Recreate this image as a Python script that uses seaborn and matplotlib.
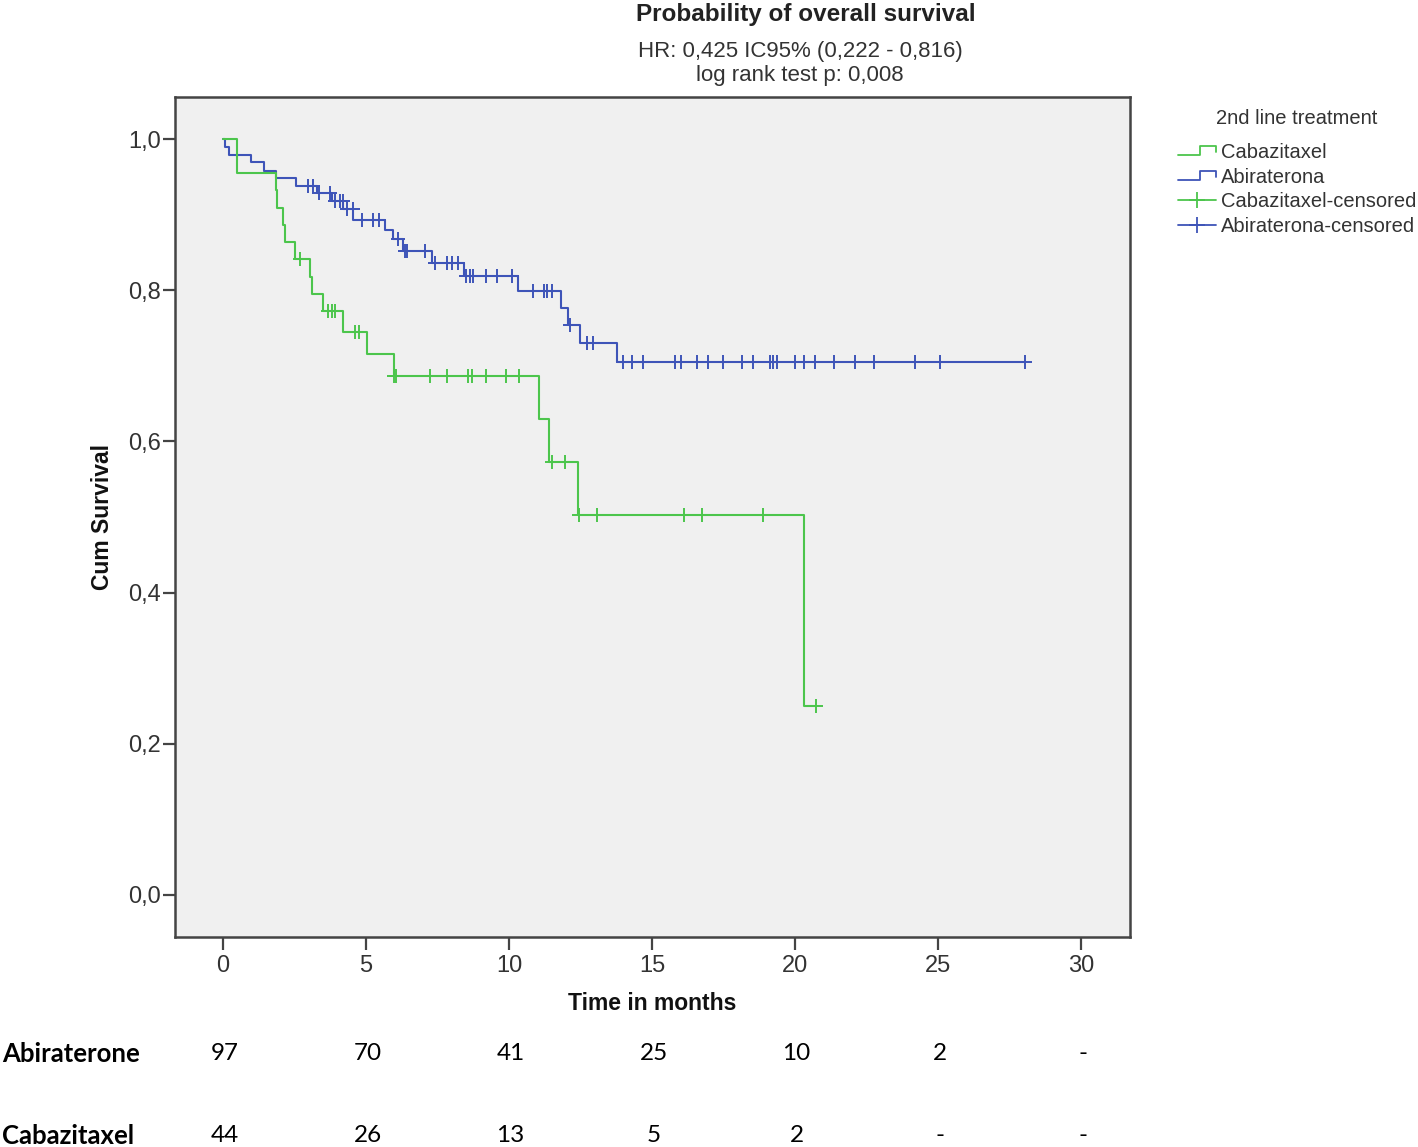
import numpy as np
import pandas as pd
import matplotlib
matplotlib.use("Agg")
import matplotlib.pyplot as plt
import seaborn as sns
from matplotlib.lines import Line2D
from matplotlib.legend_handler import HandlerBase
from matplotlib.transforms import blended_transform_factory

# Kaplan-Meier steps (time in months, cumulative survival)
abi_event_t = [0, 0.07, 0.2, 0.97, 1.43, 1.85, 2.55, 3.27, 3.8, 4.2, 4.56, 5.66,
               5.95, 6.3, 7.3, 8.44, 10.3, 11.82, 12.07, 12.48, 13.79]
abi_surv = [1.0, 0.990, 0.979, 0.969, 0.958, 0.948, 0.938, 0.928, 0.918, 0.907,
            0.893, 0.880, 0.868, 0.852, 0.836, 0.819, 0.799, 0.776, 0.754, 0.730, 0.705]
abi_censor_t = [2.98, 3.16, 3.36, 3.74, 3.92, 4.09, 4.18, 4.32, 4.55, 4.85, 5.24, 5.46,
                6.13, 6.36, 6.42, 7.06, 7.41, 7.82, 8.0, 8.23, 8.49, 8.64, 8.73, 9.2,
                9.57, 10.09, 10.85, 11.22, 11.32, 11.49, 12.13, 12.72, 12.95, 14.0,
                14.31, 14.7, 15.8, 16.01, 16.56, 16.97, 17.49, 18.14, 18.54, 19.13,
                19.24, 19.36, 20.0, 20.31, 20.7, 21.36, 22.1, 22.76, 24.2, 25.07, 28.04]

cab_event_t = [0, 0.48, 1.84, 1.90, 2.09, 2.15, 2.52, 3.04, 3.10, 3.49, 4.21, 5.05,
               5.98, 11.03, 11.40, 12.40, 20.31]
cab_surv = [1.0, 0.955, 0.932, 0.909, 0.886, 0.864, 0.841, 0.818, 0.795, 0.772, 0.745,
            0.716, 0.687, 0.630, 0.573, 0.502, 0.250]
cab_censor_t = [2.69, 3.68, 3.80, 3.92, 4.62, 4.77, 5.98, 6.05, 7.24, 7.82, 8.58, 8.70,
                9.20, 9.90, 10.33, 11.49, 11.96, 12.46, 13.09, 16.10, 16.74, 18.89, 20.73]

# numbers at risk
risk_times = [0, 5, 10, 15, 20, 25, 30]
abi_at_risk = ["97", "70", "41", "25", "10", "2", "-"]
cab_at_risk = ["44", "26", "13", "5", "2", "-", "-"]

x_ticks = [0, 5, 10, 15, 20, 25, 30]
y_ticks = [0.0, 0.2, 0.4, 0.6, 0.8, 1.0]
y_tick_labels = ["0,0", "0,2", "0,4", "0,6", "0,8", "1,0"]

GREEN = "#4cc54c"
BLUE = "#3e54b8"

sns.set_style("white")
plt.rcParams["font.family"] = ["Liberation Sans", "DejaVu Sans"]


def step_frame(event_t, surv, censor_t, group):
    t = list(event_t) + [max(censor_t)]
    s = list(surv) + [surv[-1]]
    return pd.DataFrame({"time": t, "surv": s, "group": group})


def censor_frame(event_t, surv, censor_t, group):
    idx = np.searchsorted(event_t, censor_t, side="right") - 1
    return pd.DataFrame({"time": censor_t, "surv": np.array(surv)[idx], "group": group})


class StepHandler(HandlerBase):
    def create_artists(self, legend, orig_handle, xdescent, ydescent, width, height,
                       fontsize, trans):
        x0 = -xdescent
        y0 = -ydescent + height * 0.2
        y1 = -ydescent + height * 0.85
        xs = [x0, x0 + 0.58 * width, x0 + 0.58 * width, x0 + width, x0 + width]
        ys = [y0, y0, y1, y1, y0 + 0.2 * height]
        line = Line2D(xs, ys, color=orig_handle.get_color(), lw=1.3, transform=trans)
        return [line]


fig = plt.figure(figsize=(14.18, 11.47), dpi=100)
W, H = 1418, 1147
ax = fig.add_axes([175 / W, 1 - 937 / H, 955 / W, 840 / H])
ax.set_facecolor("#f0f0f0")

for ev, sv, cz, name, col in [(abi_event_t, abi_surv, abi_censor_t, "Abiraterona", BLUE),
                              (cab_event_t, cab_surv, cab_censor_t, "Cabazitaxel", GREEN)]:
    sns.lineplot(data=step_frame(ev, sv, cz, name), x="time", y="surv", ax=ax,
                 estimator=None, sort=False, drawstyle="steps-post", color=col,
                 lw=1.5, legend=False)
    sns.scatterplot(data=censor_frame(ev, sv, cz, name), x="time", y="surv", ax=ax,
                    marker="+", s=90, linewidth=1.4, color=col, legend=False, zorder=3)

ax.set_xlim(-1.68, 31.71)
ax.set_ylim(-0.0556, 1.0556)
ax.set_xticks(x_ticks)
ax.set_yticks(y_ticks)
ax.set_yticklabels(y_tick_labels)
ax.set_xlabel("")
ax.set_ylabel("")
ax.tick_params(axis="both", direction="out", length=9, width=1.6, color="#444444",
               labelsize=17, labelcolor="#333333", bottom=True, left=True)
ax.tick_params(axis="y", pad=1)
ax.tick_params(axis="x", pad=4)
for sp in ax.spines.values():
    sp.set_color("#444444")
    sp.set_linewidth(1.8)

ax.text(-0.0754, 0.5, "Cum Survival", transform=ax.transAxes, rotation=90,
        ha="center", va="center", fontsize=16.5, fontweight="bold", color="#111111")
ax.text(0.5, -(1004 - 937) / 840, "Time in months", transform=ax.transAxes,
        ha="center", va="center", fontsize=16.5, fontweight="bold", color="#111111")

fig.text(806 / W, 1 - 14 / H, "Probability of overall survival", ha="center",
         va="center", fontsize=17.5, fontweight="bold", color="#222222")
fig.text(800 / W, 1 - 51 / H, "HR: 0,425 IC95% (0,222 - 0,816)", ha="center",
         va="center", fontsize=16, color="#333333")
fig.text(800 / W, 1 - 75 / H, "log rank test p: 0,008", ha="center",
         va="center", fontsize=16, color="#333333")

handles = [Line2D([], [], color=GREEN), Line2D([], [], color=BLUE),
           Line2D([], [], color=GREEN, marker="+", ms=12, mew=1.3, lw=1.3),
           Line2D([], [], color=BLUE, marker="+", ms=12, mew=1.3, lw=1.3)]
labels = ["Cabazitaxel", "Abiraterona", "Cabazitaxel-censored", "Abiraterona-censored"]
fig.text(1297 / W, 1 - 118 / H, "2nd line treatment", ha="center", va="center",
         fontsize=14.5, color="#333333")
leg = fig.legend(handles, labels, loc="upper left",
                 bbox_to_anchor=(1178 / W, 1 - 143 / H), frameon=False, fontsize=14.5,
                 handlelength=1.9, handletextpad=0.25,
                 labelspacing=0.28, borderpad=0, borderaxespad=0,
                 handler_map={handles[0]: StepHandler(), handles[1]: StepHandler()})
for t in leg.get_texts():
    t.set_color("#333333")

# numbers-at-risk table below the plot
tr = blended_transform_factory(ax.transData, fig.transFigure)
for row_y, row_label, vals in [(1054, "Abiraterone", abi_at_risk),
                               (1136, "Cabazitaxel", cab_at_risk)]:
    fig.text(2 / W, 1 - row_y / H, row_label, ha="left", va="center", fontsize=18.5,
             fontweight="bold", family=["Lato", "DejaVu Sans"], color="black")
    for tt, v in zip(risk_times, vals):
        ax.text(tt + 0.05, 1 - row_y / H, v, transform=tr, ha="center", va="center",
                fontsize=17.5, family=["Lato", "DejaVu Sans"], color="black",
                clip_on=False)

fig.savefig("out.png", dpi=100, facecolor="white")
